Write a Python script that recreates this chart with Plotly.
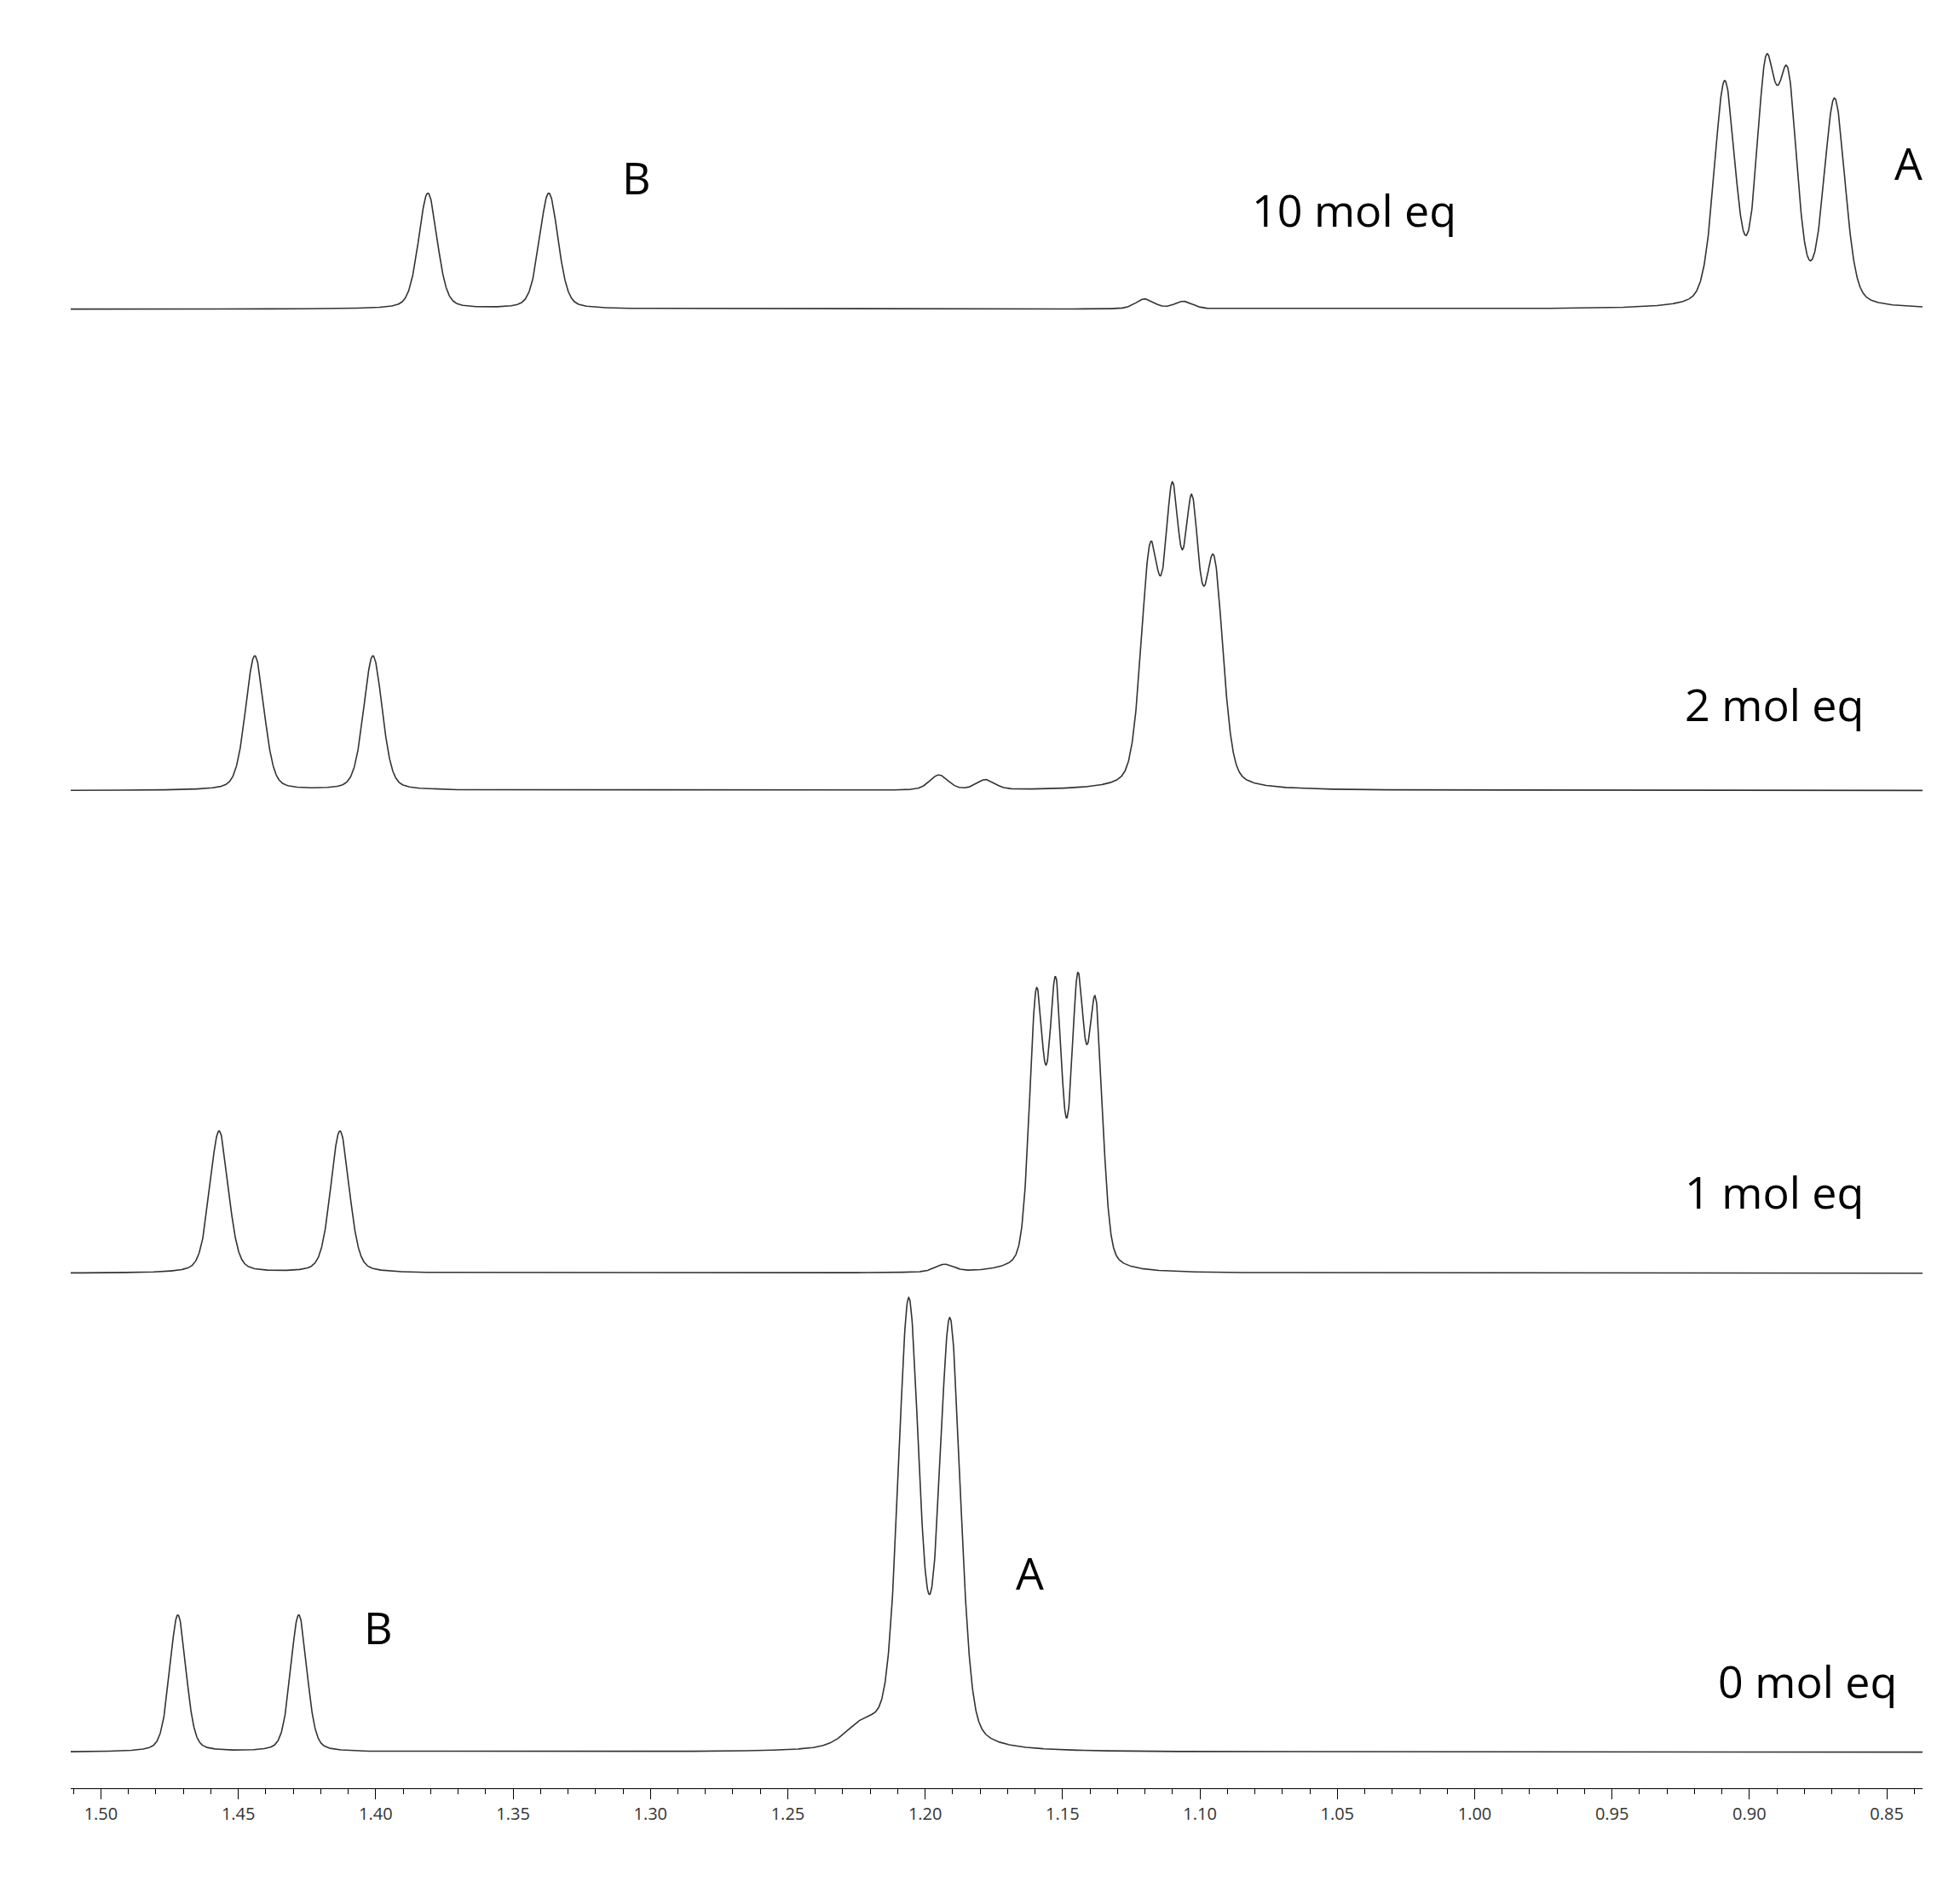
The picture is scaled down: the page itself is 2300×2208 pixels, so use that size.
import numpy as np
import plotly.graph_objects as go

# Peak lists per spectrum: (ppm, height, half-width)
labels = ["10 mol eq", "2 mol eq", "1 mol eq", "0 mol eq"]
offsets = [1187, 800, 412, 27]
peaks_ppm = [
    [1.381, 1.337, 0.909, 0.894, 0.886, 0.869, 1.120, 1.106],
    [1.444, 1.401, 1.118, 1.110, 1.103, 1.095, 1.195, 1.178],
    [1.457, 1.413, 1.1595, 1.1525, 1.1445, 1.138, 1.193],
    [1.472, 1.428, 1.206, 1.191, 1.222],
]
peaks_h = [
    [93, 93, 178, 180, 170, 165, 8, 6],
    [108, 108, 185, 210, 200, 175, 12, 8],
    [114, 114, 215, 215, 215, 205, 6],
    [110, 110, 355, 340, 18],
]
peaks_w = [
    [0.0040, 0.0040, 0.0045, 0.0040, 0.0040, 0.0045, 0.004, 0.004],
    [0.0040, 0.0040, 0.0040, 0.0032, 0.0032, 0.0040, 0.004, 0.004],
    [0.0040, 0.0040, 0.0030, 0.0028, 0.0028, 0.0030, 0.004],
    [0.0035, 0.0035, 0.0045, 0.0045, 0.008],
]
ticks = [1.50, 1.45, 1.40, 1.35, 1.30, 1.25, 1.20, 1.15, 1.10, 1.05, 1.00, 0.95, 0.90, 0.85]

x = np.linspace(0.837, 1.511, 5000)
fig = go.Figure()
for off, pp, hh, ww in zip(offsets, peaks_ppm, peaks_h, peaks_w):
    y = np.zeros_like(x)
    for p, h, w in zip(pp, hh, ww):
        y += h * np.exp(-0.5 * ((x - p) / (w / 1.1774)) ** 2) * 0.7 + h * 0.3 / (1 + ((x - p) / w) ** 2)
    fig.add_trace(go.Scatter(x=x, y=y + off, mode="lines",
                             line=dict(color="#333333", width=1.6), showlegend=False))

fnt = dict(family="Open Sans", size=52, color="black")
ann = [
    (1.044, 1267, "10 mol eq"), (0.891, 870, "2 mol eq"), (0.891, 478, "1 mol eq"),
    (0.879, 85, "0 mol eq"), (1.305, 1293, "B"), (0.842, 1305, "A"),
    (1.162, 172, "A"), (1.399, 128, "B"),
]
for ax, ay, t in ann:
    fig.add_annotation(x=ax, y=ay, text=t, showarrow=False, font=fnt)

fig.update_layout(
    width=2300, height=2208, paper_bgcolor="white", plot_bgcolor="white",
    margin=dict(l=75, r=52, t=0, b=118),
    xaxis=dict(range=[1.511, 0.837], tickvals=ticks, tickformat=".2f",
               showgrid=False, zeroline=False, showline=True, linecolor="black",
               ticks="outside", ticklen=12, tickcolor="black",
               minor=dict(dtick=0.01, ticks="outside", ticklen=6, tickcolor="black"),
               tickfont=dict(family="Open Sans", size=20, color="#333")),
    yaxis=dict(range=[-2, 1430], visible=False),
)
fig.write_html("out.html")
